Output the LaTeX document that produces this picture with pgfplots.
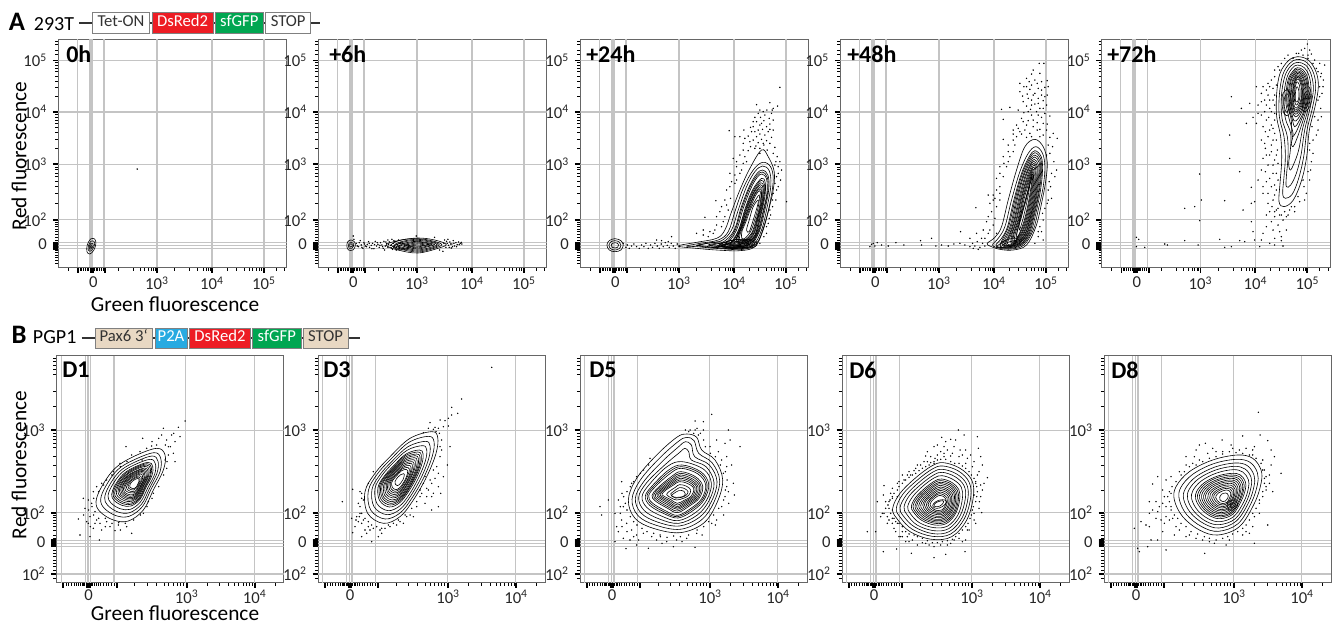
\documentclass[border=0pt]{standalone}
\usepackage{fontspec}
\setmainfont{Carlito}
\usepackage{pgfplots}
\pgfplotsset{compat=1.18}
\definecolor{gridc}{HTML}{C4C4C4}
\definecolor{axc}{HTML}{666666}
\definecolor{dsred}{HTML}{ED1C24}
\definecolor{gfp}{HTML}{00A651}
\definecolor{ptwoa}{HTML}{27AAE1}
\definecolor{tan}{HTML}{E8D8C3}
\definecolor{boxt}{HTML}{333333}
\newcommand\ct[1]{\addplot[black,line width=0.45pt,smooth cycle,tension=0.6,mark=none,forget plot] coordinates {#1};}
\newcommand\dt[1]{\addplot[only marks,mark=*,mark size=0.3pt,black,mark options={draw=none,fill=black},forget plot] coordinates {#1};}
\pgfplotsset{
 base/.style={scale only axis,anchor=south west,y dir=reverse,
  axis line style={draw=axc,line width=0.75pt},
  tick align=outside,xtick pos=lower,xticklabel pos=lower,ytick pos=left,yticklabel pos=left,
  tick style={black},major tick length=4pt,minor tick length=2.4pt,
  every major tick/.append style={line width=1.3pt},
  every minor tick/.append style={line width=0.6pt},
  tick label style={font=\fontsize{12.5}{13}\selectfont,text=black!85},
  xticklabel style={yshift=0.6pt},yticklabel style={xshift=-1pt},
  clip=true},
 panelA/.style={base,width=171.2pt,height=171.2pt,xmin=121,xmax=806,ymin=27,ymax=712,
  xtick={180,218,222,226,262,417,582,738},
  xticklabels={,,,0,,10\textsuperscript{3},10\textsuperscript{4},10\textsuperscript{5}},
  minor xtick={150,186,190,196,202,207,212,230,234,238,244,250,256,300,345,366,380,392,400,407,412,470,515,540,556,565,572,578,628,655,680,695,705,715,725,732,775,800},
  ytick={91,246,403,569,638,641,644,647,650,653,656},
  yticklabels={10\textsuperscript{5},10\textsuperscript{4},10\textsuperscript{3},10\textsuperscript{2},,0,,,,,},
  minor ytick={33,44,60,72,98,106,115,125,138,153,172,200,253,261,270,281,293,308,328,356,411,419,429,440,453,469,490,519,576,583,590,597,605,613,622,630,662,668,675,682,690,700}},
 panelB/.style={base,width=170.3pt,height=170pt,xmin=24,xmax=705,ymin=18,ymax=698,
  xticklabel style={yshift=1.4pt},
  xtick={44,116,120,124,204,414,618},
  xticklabels={,,0,,,10\textsuperscript{3},10\textsuperscript{4}},
  minor xtick={52,60,68,76,84,90,96,100,104,108,112,128,132,136,142,148,156,164,172,180,188,196,258,296,322,346,360,374,385,395,404,476,513,540,558,570,583,594,603,612,680},
  ytick={241,488,571,574,577,580,583,586,589,672},
  yticklabels={10\textsuperscript{3},10\textsuperscript{2},,,0,,,,,10\textsuperscript{2}},
  minor ytick={26,34,45,58,72,125,170,250,258,267,280,293,318,345,378,422,495,502,510,520,530,540,555,565,600,610,620,630,640,650,660,685}},
}
\newcommand\gridA{%
 \foreach \v in {178,258,417,582,738}{\edef\t{\noexpand\draw[gridc,line width=1pt] (axis cs:\v,27)--(axis cs:\v,712);}\t}
 \draw[gridc,line width=3pt] (axis cs:218,27)--(axis cs:218,712);
 \foreach \v in {91,246,403,569,638,647,656}{\edef\t{\noexpand\draw[gridc,line width=1pt] (axis cs:121,\v)--(axis cs:806,\v);}\t}
}
\newcommand\gridB{%
 \foreach \v in {38,110,118,126,196,411,616}{\edef\t{\noexpand\draw[gridc,line width=0.8pt] (axis cs:\v,18)--(axis cs:\v,698);}\t}
 \foreach \v in {241,488,571,580,589,672}{\edef\t{\noexpand\draw[gridc,line width=0.8pt] (axis cs:24,\v)--(axis cs:705,\v);}\t}
}
\newcommand\PX[2]{({#1*0.75pt},{(624-#2)*0.75pt})}
\newcommand\tn[3]{\node[anchor=west,inner sep=0pt,font=\fontsize{18}{19}\selectfont\bfseries] at \PX{#1}{#2} {#3};}
\newcommand\bx[7]{\draw[draw=#5,fill=#4,line width=0.6pt] \PX{#1}{#6} rectangle \PX{#2}{#7};
 \node[text=#3,inner sep=0pt,font=\fontsize{12.5}{13}\selectfont] at \PX{(#1+#2)/2}{(#6+#7)/2} {\strut\csname bxlabel\endcsname};}
\begin{document}
\begin{tikzpicture}
\path[use as bounding box] (0,0) rectangle (1002pt,468pt);
% ---------- A: 0h
\begin{axis}[panelA,at={(43.7pt,267.5pt)}]
\gridA
\ct{(218,627)(230,627)(234,640)(228,660)(216,672)(207,665)(208,645)}
\ct{(219,634)(228,634)(230,643)(225,656)(216,664)(211,660)(212,646)}
\ct{(219,640)(225,640)(226,647)(222,654)(216,658)(214,652)(215,646)}
\ct{(219,645)(222,645)(222,650)(219,653)(217,651)}
\dt{(358,417)}
\end{axis}
% ---------- A: +6h
\begin{axis}[panelA,at={(238.7pt,267.5pt)}]
\gridA
\ct{(219,630)(230,636)(232,648)(225,660)(212,660)(207,650)(209,636)}
\ct{(219,636)(226,640)(227,648)(222,655)(214,655)(211,648)(213,640)}
\ct{(219,641)(223,644)(223,649)(218,651)(215,648)(215,644)}
\ct{(325,645)(360,632)(420,624)(470,630)(505,643)(480,655)(420,669)(360,660)}
\ct{(340,645)(370,630)(420,626)(465,633)(492,644)(465,656)(420,666)(370,658)}
\ct{(350,645)(378,633)(420,628)(462,635)(484,644)(462,654)(420,663)(378,656)}
\ct{(358,645)(382,635)(420,631)(460,637)(478,644)(458,652)(420,660)(382,654)}
\ct{(368,645)(390,637)(420,634)(452,639)(470,644)(450,650)(420,657)(390,652)}
\ct{(378,645)(396,639)(420,636)(447,640)(462,644)(444,649)(420,654)(396,650)}
\ct{(388,645)(402,641)(420,639)(442,642)(454,644)(438,647)(420,651)(402,649)}
\ct{(400,645)(420,642)(440,645)(420,648)}
\ct{(345,650)(370,640)(400,650)(370,660)}
\ct{(360,650)(375,644)(392,650)(375,656)}
\dt{(235,640)(242,650)(247,632)(250,645)(255,655)(258,638)(262,648)(268,643)(272,635)(275,652)(280,646)(284,640)(288,656)(292,634)(296,648)(300,643)(304,652)(308,638)(312,645)(316,655)(318,634)(322,648)(326,641)(330,652)(334,636)(338,646)(342,628)(344,658)(346,640)(349,650)(352,634)(355,660)(358,644)(362,630)(365,655)(368,638)(500,630)(504,652)(508,640)(510,628)(512,646)(516,636)(520,654)(522,642)(526,632)(530,648)(534,638)(538,644)(542,636)(547,640)(552,642)(320,660)(330,630)(415,618)(470,622)(485,660)(495,664)(228,628)(226,618)
(238,648)(244,638)(252,652)(260,642)(266,650)(274,640)(282,656)(290,644)(298,638)(306,646)(314,650)(324,636)(332,644)(340,654)(348,632)(356,652)(364,646)(498,640)(506,634)(514,652)(518,642)(524,650)(528,640)(536,650)(544,644)(550,637)}
\end{axis}
% ---------- A: +24h
\begin{axis}[panelA,at={(435.2pt,267.5pt)}]
\gridA
\ct{(225,626)(243,632)(250,645)(243,660)(225,665)(208,660)(201,645)(208,632)}
\ct{(225,632)(238,636)(243,645)(238,656)(225,660)(212,656)(207,645)(212,636)}
\ct{(225,638)(233,640)(236,645)(233,652)(225,654)(217,652)(214,645)(217,640)}
\ct{(665,360)(685,380)(703,425)(700,480)(685,545)(668,605)(645,650)(600,662)(530,660)(470,655)(415,648)(470,637)(530,625)(555,600)(575,545)(600,480)(630,415)}
\ct{(668,397)(692,410)(700,450)(690,520)(672,590)(650,640)(610,658)(540,656)(470,650)(440,648)(480,640)(535,630)(565,605)(585,545)(610,475)(640,420)}
\ct{(668,408)(688,422)(693,465)(682,530)(665,600)(640,645)(600,655)(545,654)(490,648)(470,646)(500,640)(545,632)(575,600)(595,540)(620,470)(645,425)}
\ct{(668,420)(684,435)(687,475)(675,540)(658,605)(632,645)(590,652)(545,650)(510,646)(550,636)(583,600)(603,535)(628,470)(650,432)}
\ct{(667,426)(682,441)(684,482)(671,545)(655,607)(630,643)(590,651)(545,649)(560,637)(586,600)(606,535)(630,472)(651,437)}
\ct{(666,432)(680,447)(681,490)(668,550)(652,610)(628,642)(590,650)(545,648)(565,637)(590,600)(610,535)(633,475)(652,442)}
\ct{(665,445)(676,458)(675,500)(662,560)(648,615)(622,640)(590,647)(560,644)(578,632)(598,595)(616,535)(638,480)}
\ct{(664,451)(674,465)(672,505)(660,562)(646,615)(620,638)(590,645)(565,642)(582,630)(600,592)(618,535)(640,482)}
\ct{(663,458)(672,472)(670,510)(657,565)(645,615)(618,637)(590,643)(570,640)(587,628)(603,590)(620,535)(642,485)}
\ct{(662,464)(670,478)(667,515)(654,567)(642,613)(616,635)(593,640)(590,625)(605,588)(622,535)(643,487)}
\ct{(662,470)(667,485)(665,520)(652,570)(640,612)(615,634)(595,638)(592,622)(608,585)(625,535)(645,490)}
\ct{(661,476)(665,491)(662,525)(650,572)(637,611)(615,632)(597,635)(596,618)(610,582)(627,535)(646,492)}
\ct{(660,482)(663,498)(659,530)(647,575)(635,610)(615,630)(600,632)(600,615)(613,580)(630,535)(648,495)}
\ct{(658,495)(658,512)(653,540)(642,578)(632,605)(615,625)(606,625)(606,605)(618,575)(633,535)(650,505)}
\ct{(655,510)(652,530)(640,570)(628,605)(620,600)(628,570)(640,530)}
\ct{(530,650)(560,635)(600,628)(638,630)(652,640)(640,652)(595,656)(550,655)}
\ct{(540,645)(570,632)(610,628)(640,635)(630,650)(590,653)(555,652)}
\ct{(545,650)(575,640)(610,632)(645,637)(635,650)(595,653)(560,652)}
\ct{(555,645)(580,636)(610,632)(632,638)(622,647)(590,650)(565,650)}
\ct{(570,645)(590,639)(612,636)(626,640)(615,645)(590,647)}
\ct{(590,648)(610,640)(628,642)(612,648)}
\ct{(480,645)(530,636)(560,640)(530,652)(490,650)}
\ct{(505,645)(530,640)(548,643)(530,648)}
\dt{(720,172)(690,218)(713,228)(650,224)(697,240)(681,240)(670,245)(655,250)(700,235)(645,262)(662,262)(688,265)(672,272)(650,275)(690,282)(660,285)(680,290)(640,290)(632,292)(668,298)(700,300)(612,300)(645,305)(685,305)(660,312)(675,315)(625,318)(650,320)(695,322)(665,328)(600,320)(640,330)(680,332)(655,338)(690,340)(672,345)(648,348)(632,350)(705,352)(660,355)(568,302)(585,320)(610,340)(625,362)(600,375)(615,380)(580,385)(610,400)(590,410)(570,430)(600,430)(575,455)(585,460)(560,480)(572,505)(528,512)(545,530)(540,545)(560,525)(495,562)(555,560)(530,585)(545,590)(490,600)(510,605)(520,610)(705,405)(720,395)(712,380)(725,420)(710,440)(722,450)(715,470)(700,490)(708,510)(740,515)(698,530)(692,555)(685,580)(680,610)(395,620)(350,630)
(250,640)(258,652)(262,645)(268,655)(275,648)(282,642)(290,650)(298,655)(305,645)(312,650)(318,640)(325,655)(332,645)(338,652)(345,640)(352,648)(358,655)(364,642)(370,650)(376,638)(382,646)(388,652)(394,640)(400,648)(406,655)(412,642)(418,650)(365,632)(385,635)
(660,240)(675,255)(695,250)(640,275)(665,280)(700,270)(635,305)(655,300)(690,298)(615,325)(630,335)(670,340)(645,355)(610,360)(590,395)(620,395)(605,420)(585,435)(590,450)(570,470)(555,510)(565,540)(530,560)(550,575)(525,600)(505,620)(490,615)(470,610)(708,395)(715,410)(715,430)(705,460)(710,480)(698,510)(690,540)(688,565)(680,590)(672,620)(660,640)(660,370)(682,360)(700,370)}
\end{axis}
% ---------- A: +48h
\begin{axis}[panelA,at={(630.2pt,267.5pt)}]
\gridA
\ct{(705,328)(730,350)(742,395)(738,450)(725,520)(708,590)(680,645)(640,660)(600,658)(570,648)(562,640)(585,622)(605,590)(625,510)(650,420)(675,350)}
\ct{(708,350)(728,370)(735,410)(730,470)(715,540)(700,600)(672,645)(635,657)(600,655)(578,645)(595,625)(615,590)(635,510)(660,425)(685,370)}
\ct{(705,362)(724,380)(728,420)(722,480)(708,550)(692,610)(665,645)(630,655)(600,652)(588,645)(605,625)(623,590)(642,510)(665,430)(688,380)}
\ct{(705,368)(722,386)(725,425)(718,485)(704,552)(688,611)(662,644)(628,653)(601,650)(610,623)(627,587)(646,507)(667,432)(689,385)}
\ct{(705,375)(720,392)(722,430)(715,490)(701,555)(685,612)(660,643)(625,652)(602,648)(615,622)(632,585)(650,505)(670,435)(690,390)}
\ct{(704,381)(718,398)(719,435)(711,495)(698,557)(682,612)(657,641)(626,650)(607,646)(620,621)(636,582)(653,505)(672,437)(691,396)}
\ct{(703,388)(716,405)(716,440)(708,500)(695,560)(680,612)(655,640)(628,648)(612,645)(625,620)(640,580)(657,505)(675,440)(692,402)}
\ct{(702,394)(713,410)(713,445)(705,505)(692,562)(677,612)(653,638)(630,646)(617,642)(629,617)(643,577)(660,505)(677,442)(692,407)}
\ct{(702,400)(711,415)(710,450)(702,510)(690,565)(675,612)(652,636)(632,644)(622,640)(633,615)(647,575)(663,505)(680,445)(693,412)}
\ct{(701,406)(708,421)(707,455)(699,512)(687,567)(672,611)(651,634)(634,641)(636,614)(650,572)(665,505)(682,447)}
\ct{(700,412)(706,428)(704,460)(696,515)(684,570)(670,610)(650,632)(636,638)(640,612)(654,570)(668,505)(684,450)}
\ct{(699,418)(703,434)(701,465)(693,517)(681,571)(667,609)(650,630)(639,635)(643,610)(657,567)(670,505)(686,452)}
\ct{(698,425)(701,440)(698,470)(690,520)(678,572)(665,608)(650,628)(643,632)(647,608)(660,565)(673,505)(688,455)}
\ct{(697,431)(698,446)(695,475)(687,522)(675,573)(662,607)(651,625)(649,618)(656,587)(668,545)(680,505)(689,458)}
\ct{(696,437)(696,452)(692,480)(684,525)(672,575)(660,607)(652,622)(652,605)(665,560)(678,505)(690,462)}
\ct{(694,450)(690,465)(686,490)(678,530)(667,575)(658,600)(660,565)(672,525)(682,490)}
\ct{(590,650)(620,630)(650,625)(660,640)(630,650)(605,652)}
\ct{(610,645)(630,635)(650,632)(640,645)}
\dt{(718,100)(732,100)(695,132)(688,155)(742,152)(712,160)(672,170)(735,172)(690,178)(725,180)(705,190)(682,192)(668,198)(742,195)(715,205)(695,210)(730,212)(705,222)(680,228)(740,225)(720,235)(692,238)(605,238)(630,232)(710,245)(672,248)(735,250)(695,255)(725,262)(665,265)(610,268)(685,272)(712,278)(655,295)(742,282)(700,290)(640,300)(675,300)(720,298)(690,310)(665,312)(730,315)(610,328)(640,330)(650,320)(680,322)(750,322)(760,310)(772,325)(625,345)(645,345)(600,430)(612,400)(630,380)(620,410)(590,480)(600,470)(565,495)(580,495)(528,533)(570,520)(590,530)(600,510)(575,545)(560,575)(585,565)(550,600)(482,605)(530,610)(510,625)(545,625)(565,610)(758,350)(750,370)(762,395)(770,420)(755,430)(748,455)(765,440)(755,505)(745,510)(735,535)(730,570)(720,590)(715,620)(730,630)(705,640)
(210,650)(215,643)(220,640)(225,648)(232,638)(245,645)(265,648)(288,638)(312,645)(362,632)(365,645)(395,625)(408,648)(425,645)(445,648)(462,642)(480,640)(495,645)(510,650)(518,640)(525,648)(532,635)(540,652)(548,640)(555,648)(520,655)(535,658)
(700,120)(720,130)(680,145)(705,150)(660,160)(725,155)(695,165)(745,170)(680,170)(715,175)(660,185)(700,195)(725,195)(685,205)(735,200)(670,215)(715,220)(695,225)(730,235)(655,240)(685,245)(715,255)(750,258)(670,275)(700,270)(730,280)(650,285)(680,285)(712,300)(740,300)(660,305)(695,320)(640,312)(720,320)(625,365)(610,380)(640,365)(600,410)(625,395)(610,440)(590,445)(580,510)(600,490)(585,505)(565,560)(580,585)(555,625)(570,600)(590,610)(745,480)(742,520)(728,550)(725,605)(715,605)(752,470)(740,375)(745,345)}
\end{axis}
% ---------- A: +72h
\begin{axis}[panelA,at={(826.3pt,267.5pt)}]
\gridA
\ct{(708,80)(741,90)(764,125)(771,170)(761,230)(744,300)(736,380)(721,450)(696,510)(668,530)(653,515)(656,460)(661,390)(658,320)(646,260)(646,190)(656,130)(681,92)}
\ct{(708,88)(737,98)(757,130)(763,175)(753,235)(737,300)(727,380)(712,445)(693,492)(672,505)(664,490)(668,440)(672,380)(668,320)(654,260)(654,195)(664,135)(685,100)}
\ct{(708,97)(733,105)(750,135)(756,180)(746,235)(730,300)(719,375)(705,430)(688,465)(675,470)(675,440)(680,380)(678,320)(662,265)(660,200)(670,140)(688,108)}
\ct{(708,105)(729,113)(744,140)(749,185)(740,238)(724,295)(712,360)(698,400)(687,420)(682,400)(687,360)(688,310)(672,265)(667,205)(676,145)(692,115)}
\ct{(708,113)(726,120)(739,145)(743,190)(734,240)(719,290)(705,330)(695,350)(690,340)(695,310)(683,265)(673,210)(680,150)(695,123)}
\ct{(708,117)(724,125)(736,148)(740,190)(731,239)(715,282)(702,310)(693,320)(691,302)(689,265)(676,212)(683,152)(696,127)}
\ct{(708,122)(723,130)(734,152)(737,190)(729,238)(712,275)(700,290)(692,265)(680,215)(686,155)(697,132)}
\ct{(708,126)(721,133)(731,155)(734,192)(725,236)(710,266)(698,272)(689,240)(683,215)(688,157)(698,136)}
\ct{(708,130)(720,137)(729,158)(731,195)(722,235)(708,258)(697,255)(687,215)(691,160)(700,140)}
\ct{(708,134)(718,141)(726,161)(728,195)(720,231)(707,251)(697,247)(689,213)(693,162)(701,144)}
\ct{(708,138)(717,145)(724,165)(726,195)(718,228)(706,245)(698,240)(692,212)(696,165)(702,148)}
\ct{(708,142)(716,149)(722,168)(723,196)(716,225)(705,240)(698,234)(694,210)(697,168)(702,151)}
\ct{(708,147)(715,153)(720,172)(721,198)(714,222)(705,234)(699,228)(696,208)(699,172)(703,155)}
\ct{(707,155)(713,162)(716,178)(716,200)(711,218)(705,225)(701,218)(699,203)(701,175)(704,162)}
\ct{(707,170)(711,176)(713,190)(712,205)(708,215)(703,215)(702,200)(703,182)}
\ct{(725,180)(742,170)(750,195)(745,230)(728,245)(722,215)}
\ct{(730,190)(741,182)(745,198)(740,225)(730,235)(727,212)}
\ct{(733,198)(739,192)(741,205)(737,222)(732,226)(731,212)}
\ct{(665,190)(680,180)(690,215)(682,255)(668,250)(662,220)}
\ct{(671,198)(679,192)(685,218)(679,245)(672,242)(668,220)}
\dt{(738,42)(730,55)(745,60)(712,70)(750,72)(725,75)(695,85)(760,90)(775,100)(765,115)(790,105)(780,130)(786,150)(775,170)(782,190)(770,210)(778,235)(760,260)(752,290)(770,300)(755,330)(745,360)(750,395)(740,425)(745,450)(728,470)(735,490)(715,515)(700,530)
(655,120)(640,140)(645,165)(625,170)(585,170)(600,190)(620,195)(635,210)(610,210)(590,225)(625,235)(640,250)(600,255)(575,262)(615,270)(630,285)(605,290)(585,280)(640,310)(620,320)(600,330)(630,345)(612,355)(625,375)(640,390)(605,385)(620,405)(600,420)(635,430)(590,450)(615,455)(630,470)(605,490)(640,495)(620,520)(635,510)
(645,540)(655,555)(670,545)(685,540)(640,560)(665,570)(680,555)(700,545)(630,575)(650,585)(635,600)(615,590)(655,605)(660,620)(605,610)(575,605)(675,600)(640,625)(600,630)(580,515)(570,520)(545,540)(510,200)(540,235)(565,220)(555,280)(505,315)(505,385)(535,425)(415,432)(420,510)(370,535)(400,530)(490,512)(415,572)(570,472)(570,575)(225,622)(232,628)(225,650)(250,652)(310,642)(318,645)(370,632)(410,645)(475,628)(490,652)(510,650)(535,632)(550,635)(580,630)(595,650)(625,640)(640,645)(660,632)(665,648)
(640,120)(630,150)(620,160)(635,175)(615,180)(605,170)(640,195)(625,210)(600,215)(640,225)(615,225)(630,245)(610,245)(640,270)(622,262)(590,250)(635,295)(612,305)(625,300)(645,330)(635,330)(610,340)(648,360)(630,365)(645,375)(615,375)(650,400)(635,405)(612,425)(645,430)(625,445)(650,450)(640,465)(605,470)(620,490)(645,480)(632,530)(625,545)(650,535)(615,555)(640,545)(660,555)(675,560)(690,530)(710,500)(730,510)(725,450)(748,420)(755,370)(745,340)(765,315)(770,270)(780,260)(775,200)(785,170)(778,140)(770,125)(755,100)(740,85)(705,70)(680,75)(670,85)(660,100)(650,110)(720,60)(740,75)}
\end{axis}
% ---------- B: D1
\begin{axis}[panelB,at={(42.5pt,31pt)}]
\gridB
\ct{(324,295)(349,315)(344,360)(314,420)(284,480)(239,513)(194,510)(154,485)(142,455)(159,410)(199,355)(254,320)}
\ct{(316,308)(336,325)(334,365)(307,418)(281,470)(241,499)(202,497)(167,475)(156,448)(171,409)(206,360)(255,330)}
\ct{(310,318)(328,334)(325,369)(302,416)(279,462)(243,488)(208,486)(177,466)(168,443)(181,408)(212,365)(255,338)}
\ct{(304,328)(320,341)(318,372)(297,414)(276,455)(245,478)(214,476)(187,459)(178,438)(190,407)(218,369)(256,345)}
\ct{(298,337)(312,349)(310,376)(292,412)(274,448)(247,468)(220,466)(196,451)(189,433)(199,406)(223,373)(256,352)}
\ct{(295,341)(308,352)(306,377)(290,411)(273,445)(248,463)(222,461)(200,447)(193,431)(203,405)(225,375)(256,355)}
\ct{(293,345)(305,356)(303,379)(288,410)(272,442)(249,459)(225,457)(204,444)(198,429)(207,405)(228,377)(256,358)}
\ct{(290,349)(301,359)(299,380)(285,409)(271,438)(249,454)(227,452)(208,440)(203,426)(211,404)(230,378)(256,361)}
\ct{(288,354)(298,363)(296,382)(283,409)(270,435)(250,450)(230,448)(213,437)(208,424)(215,404)(233,380)(257,365)}
\ct{(285,357)(295,366)(293,383)(281,408)(269,432)(251,446)(232,444)(216,434)(212,422)(218,404)(235,381)(257,367)}
\ct{(283,361)(292,369)(290,385)(279,407)(268,430)(252,442)(235,441)(220,431)(216,420)(222,404)(237,383)(257,370)}
\ct{(281,364)(288,371)(287,386)(277,406)(267,427)(252,438)(237,437)(223,428)(220,418)(225,403)(239,384)(257,373)}
\ct{(279,368)(285,374)(285,388)(276,406)(267,424)(253,434)(239,433)(227,426)(224,417)(229,403)(241,386)(257,376)}
\ct{(276,372)(281,377)(281,389)(273,405)(266,421)(254,429)(242,428)(231,422)(228,414)(233,402)(243,388)(257,379)}
\ct{(273,377)(278,381)(278,391)(271,404)(265,418)(255,425)(245,424)(236,419)(233,412)(237,402)(246,390)(258,382)}
\ct{(270,381)(274,384)(274,392)(269,403)(264,414)(255,420)(247,419)(240,415)(238,410)(241,401)(248,392)(258,385)}
\ct{(268,385)(271,388)(271,394)(267,403)(263,411)(256,416)(250,415)(244,412)(243,408)(245,401)(251,394)(258,389)}
\dt{(409,213)(344,235)(389,232)(394,260)(369,255)(354,270)(339,255)(379,275)(359,290)(282,265)(232,290)(374,310)(359,315)(379,335)(349,330)(354,355)(324,285)(309,288)(294,295)(274,305)(249,315)(214,340)(194,365)(174,390)(159,400)(144,410)(134,425)(119,450)(104,445)(129,460)(109,475)(139,485)(89,507)(124,500)(114,515)(144,510)(154,520)(174,515)(134,535)(159,540)(94,555)(124,560)(152,570)(184,530)(209,525)(234,530)(249,550)(199,542)(284,490)(299,455)(314,430)(119,520)(139,520)
(280,330)(235,335)(215,350)(190,375)(165,405)(150,425)(135,445)(130,470)(135,495)(150,505)(170,505)(190,520)(210,518)(230,520)(255,510)(275,495)(295,470)(310,445)(330,410)(345,375)(355,335)(365,290)(375,250)(350,285)(330,265)(310,275)(120,480)(105,495)(125,530)(170,530)(215,540)}
\end{axis}
% ---------- B: D3
\begin{axis}[panelB,at={(238.5pt,31pt)}]
\gridB
\ct{(365,245)(383,262)(378,310)(350,380)(310,450)(270,500)(220,520)(173,490)(165,425)(195,370)(240,320)(300,265)}
\ct{(355,259)(372,275)(367,318)(342,381)(306,444)(270,489)(225,507)(182,480)(175,422)(202,372)(243,327)(297,277)}
\ct{(346,274)(360,288)(356,326)(334,382)(302,438)(270,478)(230,494)(192,470)(186,418)(210,374)(246,334)(294,290)}
\ct{(337,287)(350,299)(346,333)(326,383)(298,433)(269,468)(234,482)(201,461)(195,415)(216,376)(248,340)(291,301)}
\ct{(328,300)(339,311)(336,340)(319,384)(294,427)(269,458)(238,471)(209,452)(204,412)(223,378)(251,347)(288,312)}
\ct{(324,306)(334,316)(331,343)(315,384)(292,424)(269,453)(240,465)(213,448)(208,410)(226,378)(252,350)(286,317)}
\ct{(320,312)(330,321)(327,347)(312,385)(291,422)(269,449)(242,460)(217,444)(212,409)(229,379)(253,352)(285,322)}
\ct{(316,317)(325,326)(323,350)(309,385)(289,420)(269,445)(244,455)(220,440)(216,407)(231,380)(254,355)(284,327)}
\ct{(313,323)(321,331)(319,353)(306,385)(287,418)(269,441)(246,450)(224,436)(221,406)(234,381)(255,358)(283,332)}
\ct{(309,329)(316,336)(314,356)(302,385)(285,415)(269,436)(248,444)(228,432)(225,404)(237,381)(256,360)(281,337)}
\ct{(305,335)(312,341)(310,360)(299,386)(284,413)(269,432)(250,439)(232,428)(229,403)(240,382)(257,363)(280,342)}
\ct{(301,340)(307,346)(305,363)(296,386)(282,410)(269,427)(252,434)(235,424)(233,402)(243,383)(258,366)(279,347)}
\ct{(297,346)(303,352)(301,366)(293,387)(281,408)(269,423)(254,429)(239,420)(237,401)(246,384)(260,369)(278,352)}
\ct{(293,352)(298,357)(296,369)(289,387)(279,405)(268,418)(255,424)(243,416)(241,399)(249,385)(261,372)(276,357)}
\ct{(289,358)(293,362)(292,372)(286,388)(277,403)(268,414)(257,419)(247,412)(245,398)(252,386)(262,375)(275,362)}
\ct{(281,371)(283,373)(282,380)(279,389)(273,398)(268,404)(262,407)(256,403)(255,395)(259,387)(264,381)(272,374)}
\dt{(545,52)(455,147)(425,172)(443,190)(425,195)(415,205)(405,212)(390,210)(360,218)(415,228)(400,230)(385,235)(370,238)(378,245)(420,290)(412,345)(390,290)(400,380)(385,370)(375,385)(360,390)(355,420)(340,400)(385,410)(370,430)(392,430)(350,440)(330,440)(345,460)(385,470)(365,480)(320,470)(300,495)(280,520)(290,500)(260,525)(240,530)(215,550)(205,560)(180,540)(155,560)(165,540)(145,515)(125,505)(160,510)(150,490)(145,460)(155,430)(128,418)(97,455)(128,548)(185,575)(190,365)(175,400)(190,535)(225,535)(155,520)(148,500)(160,450)(138,510)(270,515)
(150,425)(155,445)(150,470)(155,490)(165,505)(175,515)(185,525)(200,530)(215,535)(235,525)(250,520)(265,510)(285,495)(305,475)(320,455)(335,430)(350,415)(365,400)(380,350)(390,320)(395,300)(395,270)(388,250)(375,232)(355,235)(340,248)(175,530)(170,550)(210,540)(140,500)(135,530)(330,420)(345,380)(370,360)(365,440)(310,500)}
\end{axis}
% ---------- B: D5
\begin{axis}[panelB,at={(435pt,31pt)}]
\gridB
\ct{(344,252)(374,262)(389,300)(429,330)(452,390)(434,460)(394,520)(324,548)(244,535)(189,505)(169,450)(194,385)(254,315)(314,262)}
\ct{(344,262)(366,272)(380,310)(420,338)(443,392)(425,458)(388,510)(324,538)(250,525)(198,497)(180,448)(205,390)(262,325)(318,275)}
\ct{(340,275)(358,285)(368,320)(412,345)(435,395)(418,455)(382,502)(322,528)(256,516)(207,489)(190,445)(215,395)(270,335)(320,290)}
\ct{(338,295)(350,305)(358,330)(402,350)(426,398)(411,452)(376,495)(320,520)(262,507)(216,481)(200,442)(224,398)(278,345)(322,308)}
\ct{(330,335)(395,358)(418,400)(404,450)(370,488)(318,512)(268,498)(225,473)(210,440)(233,402)(285,350)}
\ct{(330,345)(386,365)(410,402)(397,448)(364,481)(318,504)(274,490)(233,466)(220,438)(242,406)(290,360)}
\ct{(329,350)(382,368)(405,403)(393,447)(361,477)(317,500)(277,486)(237,462)(225,437)(246,408)(292,365)}
\ct{(328,355)(378,372)(401,405)(389,446)(358,474)(317,496)(280,482)(241,459)(230,437)(250,410)(295,370)}
\ct{(326,365)(370,380)(392,408)(382,444)(352,468)(316,488)(285,474)(250,453)(240,436)(258,413)(298,380)}
\ct{(325,370)(366,383)(387,409)(378,443)(349,465)(316,483)(287,470)(254,450)(245,435)(262,414)(300,384)}
\ct{(325,375)(362,387)(383,410)(374,442)(346,462)(316,478)(290,466)(258,447)(250,435)(266,416)(302,388)}
\ct{(324,380)(358,390)(378,411)(370,441)(344,459)(316,474)(292,462)(262,444)(255,434)(270,417)(303,392)}
\ct{(324,385)(354,393)(374,412)(366,440)(342,456)(316,470)(294,458)(266,442)(260,433)(274,418)(304,396)}
\ct{(323,390)(350,396)(369,413)(362,439)(340,453)(316,465)(296,454)(270,440)(265,432)(278,419)(305,400)}
\ct{(322,395)(346,400)(365,415)(358,438)(338,450)(316,460)(298,450)(275,438)(270,432)(282,420)(306,404)}
\ct{(322,404)(342,408)(356,420)(350,436)(334,445)(314,450)(298,444)(284,434)(292,424)(310,412)}
\ct{(322,413)(338,416)(348,425)(342,436)(328,442)(310,444)(300,438)(296,432)(304,425)}
\ct{(320,422)(336,424)(340,432)(332,440)(312,442)(298,437)}
\dt{(419,193)(394,215)(369,213)(394,240)(369,240)(354,240)(379,255)(469,240)(504,290)(474,270)(434,270)(459,280)(414,290)(439,305)(464,320)(449,330)(479,345)(464,350)(454,370)(484,400)(464,410)(487,435)(459,440)(469,425)(449,470)(434,510)(419,520)(234,325)(194,380)(149,395)(179,400)(109,450)(84,470)(89,495)(139,450)(154,470)(129,490)(149,510)(134,530)(164,520)(139,545)(154,565)(179,540)(194,555)(174,570)(214,550)(239,560)(254,570)(284,575)(314,570)(344,565)(374,550)(129,575)(162,596)(194,585)(229,595)(304,590)(369,592)(264,555)
(230,345)(215,360)(205,370)(185,395)(175,410)(165,425)(155,440)(160,460)(165,480)(175,500)(185,515)(195,525)(210,535)(225,545)(245,550)(265,560)(285,562)(305,558)(325,560)(350,555)(375,540)(395,530)(410,515)(425,495)(440,475)(455,450)(460,420)(465,390)(460,365)(445,345)(430,320)(415,310)(400,290)(395,270)(385,250)(365,250)(350,245)(340,240)(375,235)(150,430)(145,470)(145,490)(150,530)(165,545)(185,560)(200,570)(270,580)(330,575)(390,555)(430,525)(455,495)(470,460)}
\end{axis}
% ---------- B: D6
\begin{axis}[panelB,at={(631.5pt,31pt)}]
\gridB
\ct{(328,338)(378,355)(413,390)(418,440)(398,510)(353,560)(293,568)(228,545)(188,505)(176,475)(198,430)(243,385)(293,348)}
\ct{(327,348)(373,363)(405,396)(410,442)(391,506)(350,552)(295,559)(235,538)(198,501)(187,474)(207,432)(249,391)(295,357)}
\ct{(326,358)(368,372)(397,401)(402,443)(385,502)(347,544)(297,551)(242,531)(208,498)(198,473)(217,435)(255,397)(297,366)}
\ct{(325,367)(363,380)(390,407)(394,445)(378,498)(344,536)(299,542)(249,525)(219,494)(210,471)(226,437)(261,403)(299,375)}
\ct{(324,377)(358,389)(382,412)(385,446)(372,494)(341,528)(300,533)(256,518)(229,491)(221,470)(236,440)(266,409)(300,384)}
\ct{(323,387)(353,397)(374,418)(377,448)(365,490)(338,520)(302,525)(263,511)(239,487)(232,469)(245,442)(272,415)(302,393)}
\ct{(322,392)(350,401)(370,421)(373,449)(362,488)(336,516)(303,520)(266,507)(244,485)(237,468)(250,443)(275,418)(303,397)}
\ct{(322,397)(348,405)(366,424)(369,450)(359,486)(335,512)(304,516)(270,504)(249,483)(243,468)(255,444)(278,421)(304,402)}
\ct{(321,401)(345,409)(362,426)(365,450)(355,484)(333,508)(305,512)(273,500)(254,481)(248,467)(259,445)(281,424)(305,406)}
\ct{(321,406)(343,414)(359,429)(361,451)(352,482)(332,504)(306,508)(277,497)(260,480)(254,467)(264,447)(284,427)(306,411)}
\ct{(320,411)(340,418)(355,432)(357,452)(349,480)(330,500)(307,503)(280,494)(265,478)(260,466)(269,448)(287,430)(307,415)}
\ct{(320,416)(338,422)(351,435)(353,453)(346,478)(329,496)(308,499)(284,491)(270,476)(266,465)(274,449)(290,433)(308,420)}
\ct{(319,421)(335,426)(347,437)(349,453)(342,476)(327,492)(309,494)(287,487)(275,474)(271,464)(278,450)(293,436)(309,424)}
\ct{(319,426)(333,431)(343,440)(345,454)(339,474)(326,488)(310,490)(291,484)(280,473)(277,464)(283,452)(296,439)(310,429)}
\ct{(318,431)(330,435)(339,443)(340,455)(335,472)(324,484)(310,486)(294,480)(285,471)(282,463)(287,453)(298,442)(310,433)}
\ct{(318,436)(328,439)(335,446)(336,456)(332,470)(323,480)(311,482)(298,477)(290,469)(288,463)(292,454)(301,445)(311,438)}
\ct{(332,450)(338,456)(330,466)(316,474)(302,474)(296,466)(304,456)(318,450)}
\ct{(326,452)(328,458)(318,468)(304,470)(300,464)(310,456)}
\dt{(373,240)(390,255)(350,268)(323,262)(335,275)(365,270)(430,260)(300,290)(340,300)(378,300)(320,305)(355,310)(395,300)(410,315)(303,325)(330,320)(275,318)(433,295)(440,320)(420,335)(445,345)(270,335)(250,345)(300,340)(395,340)(460,383)(435,365)(450,400)(445,420)(425,400)(420,435)(436,455)(443,488)(420,490)(400,540)(425,520)(395,570)(385,575)(360,570)(340,585)(300,590)(300,623)(335,613)(393,605)(232,610)(148,605)(188,597)(195,560)(215,575)(235,570)(250,585)(275,580)(205,545)(180,535)(160,520)(125,545)(100,545)(140,500)(155,475)(175,480)(165,455)(130,455)(150,407)(175,415)(190,400)(205,375)(225,365)(245,355)(190,440)(165,510)(190,520)(170,430)(210,390)(230,375)(145,490)(148,435)(180,505)(200,560)(220,560)
(300,335)(310,330)(320,328)(335,328)(350,335)(362,340)(375,340)(385,348)(395,355)(405,365)(412,375)(420,385)(425,395)(428,410)(430,425)(428,440)(425,455)(418,470)(415,480)(412,495)(408,505)(402,520)(395,530)(385,540)(375,550)(365,560)(355,568)(340,572)(325,575)(310,578)(295,578)(280,572)(265,565)(250,560)(240,555)(225,552)(215,545)(205,530)(195,520)(185,515)(175,505)(170,490)(165,475)(162,465)(168,450)(175,440)(180,430)(190,420)(195,410)(205,400)(215,390)(225,382)(235,375)(245,370)(255,362)(265,355)(275,350)(285,345)(290,338)(280,335)(260,345)(240,362)(220,375)(195,395)(175,445)(155,455)(150,490)(160,500)(175,520)(185,545)(205,560)(225,575)(265,578)(285,585)(320,585)(350,580)(375,565)(405,540)(420,510)(435,475)(440,440)(440,405)(430,375)(415,350)(400,325)(375,320)(350,318)(330,310)(310,315)(290,320)(280,305)(310,285)(330,290)(360,290)(385,315)}
\end{axis}
% ---------- B: D8
\begin{axis}[panelB,at={(828pt,31pt)}]
\gridB
\ct{(425,315)(470,325)(495,360)(495,400)(475,460)(430,530)(365,555)(310,540)(260,500)(235,450)(240,410)(280,365)(350,330)}
\ct{(421,328)(462,337)(484,368)(484,404)(466,458)(426,521)(367,544)(317,530)(272,494)(250,449)(254,413)(290,373)(353,341)}
\ct{(417,339)(454,347)(474,376)(474,408)(458,457)(421,513)(369,534)(324,521)(284,489)(263,448)(268,416)(300,380)(357,351)}
\ct{(414,349)(447,357)(465,382)(465,411)(451,455)(418,506)(370,524)(330,514)(294,484)(275,448)(279,419)(308,386)(359,360)}
\ct{(411,359)(440,366)(457,389)(457,415)(444,454)(414,499)(372,515)(336,506)(304,480)(287,447)(291,421)(317,392)(362,369)}
\ct{(408,370)(433,375)(448,395)(448,418)(436,452)(411,492)(374,506)(342,498)(314,475)(299,447)(302,424)(325,398)(365,378)}
\ct{(406,375)(430,380)(443,398)(443,419)(432,451)(409,488)(374,501)(345,494)(319,472)(305,446)(308,425)(329,401)(366,382)}
\ct{(405,380)(427,385)(439,402)(439,421)(429,451)(407,485)(375,497)(348,490)(324,470)(311,446)(314,426)(334,404)(368,387)}
\ct{(403,385)(423,389)(434,405)(434,423)(425,450)(405,481)(376,492)(351,486)(329,468)(317,445)(320,427)(338,407)(369,391)}
\ct{(401,390)(420,394)(430,408)(430,425)(422,449)(403,478)(377,488)(354,482)(334,466)(323,445)(326,429)(342,410)(371,396)}
\ct{(399,395)(416,398)(425,411)(425,426)(418,448)(401,474)(377,483)(357,478)(339,463)(329,445)(331,430)(346,413)(372,400)}
\ct{(398,400)(413,403)(421,415)(421,428)(415,448)(400,471)(378,479)(360,474)(344,461)(335,445)(337,431)(350,417)(373,405)}
\ct{(396,405)(409,408)(417,418)(417,429)(411,447)(398,467)(379,474)(363,470)(349,459)(341,444)(343,432)(354,420)(374,409)}
\ct{(395,410)(406,413)(413,421)(413,431)(408,447)(396,464)(380,470)(366,467)(354,457)(347,444)(349,434)(359,423)(376,414)}
\ct{(393,415)(402,417)(408,424)(408,433)(404,446)(394,460)(381,465)(369,463)(359,454)(353,443)(354,435)(363,426)(377,418)}
\ct{(392,420)(399,422)(404,428)(404,435)(400,445)(393,457)(382,461)(372,459)(364,452)(359,443)(360,437)(367,429)(379,423)}
\ct{(389,429)(394,431)(397,437)(395,445)(388,453)(380,455)(372,450)(371,441)(376,433)(382,430)}
\ct{(395,458)(415,450)(425,465)(410,480)(397,478)}
\ct{(402,465)(414,458)(418,467)(408,474)}
\dt{(487,187)(440,258)(378,270)(328,280)(492,255)(515,272)(405,285)(310,285)(350,295)(475,290)(525,300)(300,300)(380,305)(430,300)(470,315)(535,320)(270,320)(295,320)(500,330)(525,345)(555,370)(500,360)(270,345)(250,365)(225,380)(185,380)(210,390)(520,400)(510,410)(170,402)(200,420)(225,430)(530,425)(160,455)(180,455)(210,470)(500,440)(185,485)(160,490)(225,480)(135,515)(150,525)(180,505)(115,535)(205,520)(220,510)(240,530)(200,545)(165,570)(185,570)(235,555)(270,560)(300,565)(320,570)(355,580)(390,585)(475,580)(440,555)(460,550)(515,525)(326,610)(210,600)(125,595)(130,605)(155,590)(475,500)(490,490)
(300,345)(320,335)(340,325)(360,320)(380,312)(400,305)(420,308)(440,310)(460,315)(480,325)(495,340)(505,360)(510,380)(505,400)(510,420)(500,425)(490,450)(480,475)(470,490)(460,510)(450,525)(440,535)(425,545)(410,552)(395,560)(380,565)(360,570)(340,565)(325,560)(305,552)(285,545)(270,530)(255,520)(245,505)(235,495)(225,470)(220,455)(215,440)(220,425)(228,410)(240,395)(255,375)(265,365)(280,350)(290,340)(310,330)(205,440)(200,460)(190,470)(210,500)(195,510)(230,505)(170,480)(160,530)(250,540)(280,555)(340,575)(400,570)(450,545)(470,530)(490,460)(505,385)(520,375)(470,300)(450,295)(410,295)(360,305)(335,310)}
\end{axis}
% ---------- titles
\tn{66}{54}{0h}\tn{329}{54}{+6h}\tn{586}{54}{+24h}\tn{847}{54}{+48h}\tn{1107}{54}{+72h}
\tn{62}{370}{D1}\tn{323}{370}{D3}\tn{589}{370}{D5}\tn{849}{370}{D6}\tn{1111}{370}{D8}
% ---------- axis names
\newcommand\axn{\fontsize{16}{17}\selectfont}
\node[font=\axn] at \PX{175}{304} {Green fluorescence};
\node[font=\axn] at \PX{175}{613.5} {Green fluorescence};
\node[font=\axn,rotate=90] at \PX{19}{156} {Red fluorescence};
\node[font=\axn,rotate=90] at \PX{19}{465} {Red fluorescence};
% ---------- construct A
\node[font=\fontsize{20}{21}\selectfont\bfseries] at \PX{17}{22} {A};
\node[font=\fontsize{15}{16}\selectfont] at \PX{54}{24} {293T};
\draw[line width=1.2pt,black!80] \PX{79}{23.3}--\PX{320}{23.3};
\def\bxlabel{Tet-ON}\bx{92.3}{149.7}{boxt}{white}{gray}{12.7}{33.7}
\def\bxlabel{DsRed2}\bx{152}{213.3}{white}{dsred}{gray}{12.7}{33.7}
\def\bxlabel{sfGFP}\bx{215}{263.7}{white}{gfp}{gray}{12.7}{33.7}
\def\bxlabel{STOP}\bx{265.7}{310.7}{boxt}{white}{gray}{12.7}{33.7}
% ---------- construct B
\node[font=\fontsize{20}{21}\selectfont\bfseries] at \PX{19}{335} {B};
\node[font=\fontsize{15}{16}\selectfont] at \PX{54.7}{337} {PGP1};
\draw[line width=1.2pt,black!80] \PX{81.7}{338}--\PX{360}{338};
\def\bxlabel{Pax6 3‘}\bx{95}{152.3}{boxt}{tan}{gray}{328}{348.7}
\def\bxlabel{P2A}\bx{155}{187}{white}{ptwoa}{gray}{328}{348.7}
\def\bxlabel{DsRed2}\bx{189.3}{250.7}{white}{dsred}{gray}{328}{348.7}
\def\bxlabel{sfGFP}\bx{252.7}{301}{white}{gfp}{gray}{328}{348.7}
\def\bxlabel{STOP}\bx{303}{348}{boxt}{tan}{gray}{328}{348.7}
\end{tikzpicture}
\end{document}
